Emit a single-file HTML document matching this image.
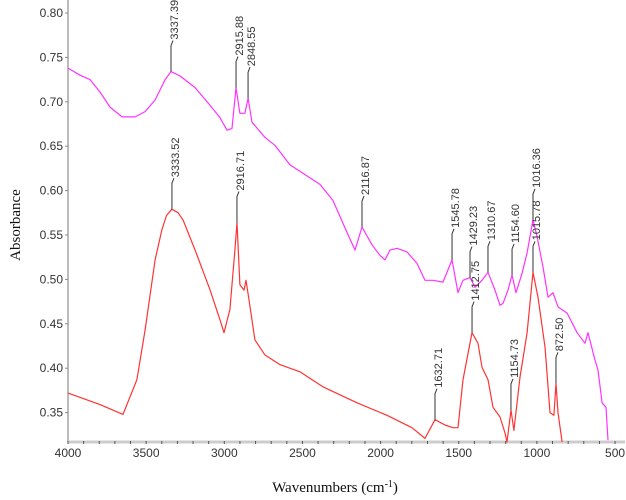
<!DOCTYPE html>
<html><head><meta charset="utf-8"><style>
html,body{margin:0;padding:0;background:#fff;}
svg{display:block;font-family:"Liberation Sans",sans-serif;}
</style></head><body>
<svg id="chart" width="626" height="500" xmlns="http://www.w3.org/2000/svg">
<text x="0" y="0" transform="translate(20,225) rotate(-90)" text-anchor="middle" font-family="Liberation Serif,serif" font-size="15" fill="#111">Absorbance</text>
<text x="335" y="492" text-anchor="middle" font-family="Liberation Serif,serif" font-size="15" fill="#111">Wavenumbers (cm<tspan baseline-shift="super" font-size="10">-1</tspan>)</text>
</svg>
<script>
const yTicks=[0.35,0.40,0.45,0.50,0.55,0.60,0.65,0.70,0.75,0.80];
const xTicks=[4000,3500,3000,2500,2000,1500,1000,500];
const magentaWn=[4000,3923,3859,3795,3731,3654,3571,3507,3443,3379,3341,3283,3187,3091,3027,2983,2951,2925,2900,2868,2848,2823,2740,2676,2580,2484,2388,2305,2228,2164,2119,2055,2004,1972,1940,1895,1831,1767,1716,1665,1601,1543,1505,1473,1428,1396,1351,1313,1268,1236,1217,1185,1159,1134,1095,1063,1025,999,961,929,897,865,807,743,692,673,628,609,583,558,545];
const magentaAbs=[0.738,0.730,0.725,0.711,0.694,0.683,0.683,0.689,0.702,0.725,0.734,0.729,0.716,0.696,0.682,0.668,0.670,0.716,0.687,0.687,0.704,0.677,0.660,0.651,0.629,0.618,0.607,0.589,0.558,0.533,0.559,0.539,0.527,0.522,0.533,0.535,0.531,0.518,0.499,0.499,0.497,0.522,0.485,0.499,0.502,0.491,0.499,0.508,0.488,0.471,0.473,0.488,0.505,0.485,0.507,0.530,0.567,0.548,0.514,0.480,0.485,0.469,0.462,0.440,0.428,0.440,0.409,0.398,0.361,0.356,0.319];
const redWn=[4000,3795,3648,3559,3507,3443,3399,3370,3335,3295,3264,3187,3091,3027,3002,2964,2932,2919,2900,2874,2861,2842,2804,2740,2644,2516,2369,2151,1959,1799,1716,1652,1588,1537,1505,1473,1415,1377,1351,1313,1281,1236,1204,1191,1166,1147,1108,1063,1025,993,948,916,891,878,865,839];
const redAbs=[0.372,0.359,0.348,0.387,0.443,0.522,0.556,0.572,0.579,0.575,0.567,0.533,0.488,0.454,0.440,0.466,0.533,0.564,0.494,0.488,0.499,0.477,0.432,0.415,0.404,0.396,0.379,0.361,0.347,0.333,0.321,0.342,0.336,0.333,0.333,0.387,0.440,0.428,0.401,0.387,0.356,0.345,0.327,0.316,0.353,0.330,0.390,0.440,0.508,0.480,0.424,0.350,0.347,0.383,0.350,0.314];
const peakLabels=["3337.39","2915.88","2848.55","2116.87","1545.78","1429.23","1310.67","1154.60","1016.36","3333.52","2916.71","1632.71","1412.75","1154.73","1015.78","872.50"];
const peakWn=[3341,2925,2848,2119,1543,1428,1313,1159,1025,3335,2919,1652,1415,1166,1025,878];
const peakAbs=[0.734,0.716,0.704,0.559,0.522,0.502,0.508,0.505,0.567,0.579,0.564,0.342,0.440,0.353,0.508,0.383];

const L=68,R=625,T=0,B=442;
const X=w=>68+(4000-w)*0.1563;
const Y=a=>13+(0.80-a)*888;
const svg=document.getElementById('chart');
const NS='http://www.w3.org/2000/svg';
function mk(tag,attrs){const e=document.createElementNS(NS,tag);for(const k in attrs)e.setAttribute(k,attrs[k]);svg.appendChild(e);return e;}

let ax=mk('line',{x1:L,y1:T,x2:L,y2:B,stroke:'#bbb','stroke-width':2});


let bx=mk('line',{x1:L,y1:B,x2:R,y2:B,stroke:'#ccc','stroke-width':3});


yTicks.forEach(v=>{
  const y=Y(v);
  const t=mk('line',{x1:L-3,y1:y,x2:L,y2:y,stroke:'#888'});
  
  
  const tx=mk('text',{x:L-5,y:y+4,'text-anchor':'end','font-size':12,fill:'#333'});
  tx.textContent=v.toFixed(2);
  
  
});
for(let w=4000;w>=440;w-=100){
  const m=mk('line',{x1:X(w),y1:B-1,x2:X(w),y2:B+2,stroke:'#555','stroke-width':1});
  
  
}
xTicks.forEach(v=>{
  const tx=mk('text',{x:X(v),y:B+15,'text-anchor':'middle','font-size':12,fill:'#333'});
  tx.textContent=v;
  
  
});
function series(wn,ab,color,name){
  const d=wn.map((w,i)=>(i?'L':'M')+X(w).toFixed(1)+','+Math.min(Y(ab[i]),B).toFixed(1)).join(' ');
  const p=mk('path',{d:d,fill:'none',stroke:color,'stroke-width':1.2,'stroke-linejoin':'round'});
  
  
}
series(magentaWn,magentaAbs,'#ff33ff','magenta-spectrum');
series(redWn,redAbs,'#ff3333','red-spectrum');
peakLabels.forEach((lab,i)=>{
  const x=X(peakWn[i]),y=Y(peakAbs[i]);
  const top=y-26;
  const ln=mk('polyline',{points:`${x},${y} ${x},${top} ${x+2},${top-5}`,fill:'none',stroke:'#333','stroke-width':1});
  
  
  const tx=mk('text',{x:0,y:0,transform:`translate(${x+7},${top-6}) rotate(-90)`,'font-size':11,fill:'#333'});
  tx.textContent=lab;
  
  
});
</script>
</body></html>
